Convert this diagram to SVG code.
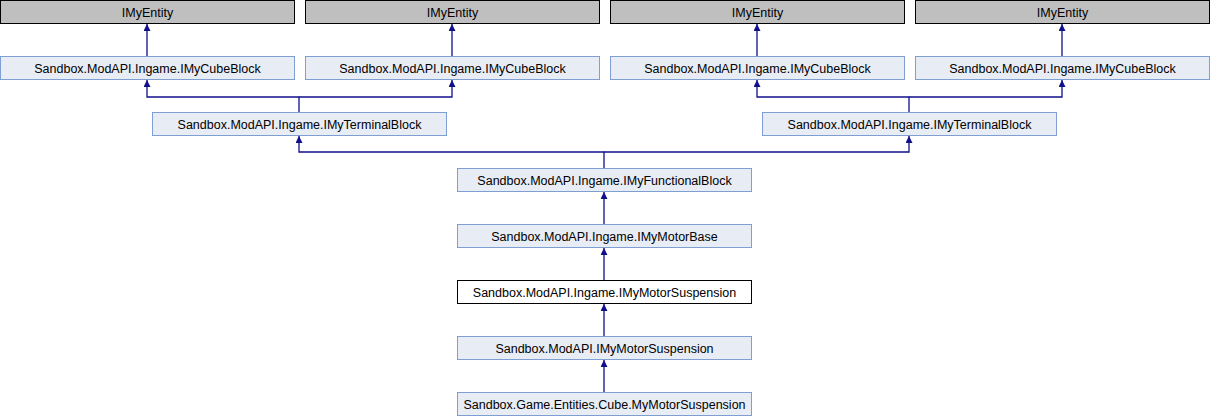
<svg xmlns="http://www.w3.org/2000/svg" width="1210" height="416" viewBox="0 0 1210 416">
<style>
text{font-family:"Liberation Sans",Arial,sans-serif;font-size:12.5px;fill:#000;text-anchor:middle}
.ext{fill:#bfbfbf;stroke:#000;stroke-width:1}
.n{fill:#e8ecf5;stroke:#7f9fd2;stroke-width:1}
.cur{fill:#fff;stroke:#000;stroke-width:1}
.e{fill:none;stroke:#10108a;stroke-width:1.3}
</style>
<defs>
<marker id="ah" viewBox="0 0 10 10" refX="10" refY="5" markerWidth="7" markerHeight="7" markerUnits="userSpaceOnUse" orient="auto">
<path d="M0,0 L10,5 L0,10 z" fill="#10108a"/>
</marker>
</defs>
<rect width="1210" height="416" fill="#fff"/>
<g id="connectors">
<path class="e" d="M147,56.5 V24" marker-end="url(#ah)"/>
<path class="e" d="M452,56.5 V24" marker-end="url(#ah)"/>
<path class="e" d="M757,56.5 V24" marker-end="url(#ah)"/>
<path class="e" d="M1062,56.5 V24" marker-end="url(#ah)"/>
<path class="e" d="M299,112 V97 H147 V80" marker-end="url(#ah)"/>
<path class="e" d="M299,97 H452 V80" marker-end="url(#ah)"/>
<path class="e" d="M909,112 V97 H757 V80" marker-end="url(#ah)"/>
<path class="e" d="M909,97 H1062 V80" marker-end="url(#ah)"/>
<path class="e" d="M604,168 V152 H299 V136" marker-end="url(#ah)"/>
<path class="e" d="M604,152 H909 V136" marker-end="url(#ah)"/>
<path class="e" d="M604,224 V192" marker-end="url(#ah)"/>
<path class="e" d="M604,280 V248" marker-end="url(#ah)"/>
<path class="e" d="M604,336 V304" marker-end="url(#ah)"/>
<path class="e" d="M604,392 V360" marker-end="url(#ah)"/>
</g>
<g id="entity1"><rect class="ext" x="0.5" y="0.5" width="294" height="23"/><text x="147.5" y="16.5">IMyEntity</text></g>
<g id="entity2"><rect class="ext" x="305.5" y="0.5" width="294" height="23"/><text x="452.5" y="16.5">IMyEntity</text></g>
<g id="entity3"><rect class="ext" x="610.5" y="0.5" width="294" height="23"/><text x="757.5" y="16.5">IMyEntity</text></g>
<g id="entity4"><rect class="ext" x="915.5" y="0.5" width="294" height="23"/><text x="1062.5" y="16.5">IMyEntity</text></g>
<g id="cube1"><rect class="n" x="0.5" y="56.5" width="294" height="23"/><text x="147.5" y="72.5">Sandbox.ModAPI.Ingame.IMyCubeBlock</text></g>
<g id="cube2"><rect class="n" x="305.5" y="56.5" width="294" height="23"/><text x="452.5" y="72.5">Sandbox.ModAPI.Ingame.IMyCubeBlock</text></g>
<g id="cube3"><rect class="n" x="610.5" y="56.5" width="294" height="23"/><text x="757.5" y="72.5">Sandbox.ModAPI.Ingame.IMyCubeBlock</text></g>
<g id="cube4"><rect class="n" x="915.5" y="56.5" width="294" height="23"/><text x="1062.5" y="72.5">Sandbox.ModAPI.Ingame.IMyCubeBlock</text></g>
<g id="terminal1"><rect class="n" x="152.5" y="112.5" width="294" height="23"/><text x="299.5" y="128.5">Sandbox.ModAPI.Ingame.IMyTerminalBlock</text></g>
<g id="terminal2"><rect class="n" x="762.5" y="112.5" width="294" height="23"/><text x="909.5" y="128.5">Sandbox.ModAPI.Ingame.IMyTerminalBlock</text></g>
<g id="functional"><rect class="n" x="457.5" y="168.5" width="294" height="23"/><text x="604.5" y="184.5">Sandbox.ModAPI.Ingame.IMyFunctionalBlock</text></g>
<g id="motorbase"><rect class="n" x="457.5" y="224.5" width="294" height="23"/><text x="604.5" y="240.5">Sandbox.ModAPI.Ingame.IMyMotorBase</text></g>
<g id="ingamesusp"><rect class="cur" x="457.5" y="280.5" width="294" height="23"/><text x="604.5" y="296.5">Sandbox.ModAPI.Ingame.IMyMotorSuspension</text></g>
<g id="modapisusp"><rect class="n" x="457.5" y="336.5" width="294" height="23"/><text x="604.5" y="352.5">Sandbox.ModAPI.IMyMotorSuspension</text></g>
<g id="cubesusp"><rect class="n" x="457.5" y="392.5" width="294" height="23"/><text x="604.5" y="408.5">Sandbox.Game.Entities.Cube.MyMotorSuspension</text></g>
</svg>
